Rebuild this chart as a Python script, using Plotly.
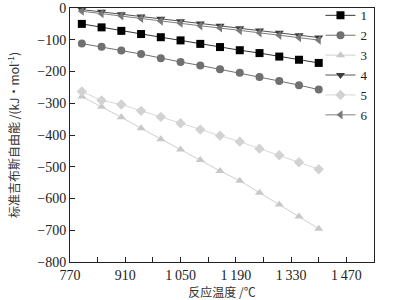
import plotly.graph_objects as go

temps = [800, 850, 900, 950, 1000, 1050, 1100, 1150, 1200, 1250, 1300, 1350, 1400]
s1 = [-50, -61, -72, -82, -92, -102, -113, -123, -133, -142, -153, -163, -173]
s2 = [-112, -122, -134, -145, -158, -170, -181, -193, -204, -217, -230, -243, -257]
s3 = [-279, -311, -344, -379, -413, -446, -479, -513, -544, -582, -619, -657, -695]
s4 = [-5, -12, -20, -27, -34, -42, -49, -56, -64, -71, -78, -86, -93]
s5 = [-263, -291, -304, -324, -343, -363, -383, -402, -421, -443, -464, -486, -508]
s6 = [-10, -18, -25, -33, -41, -48, -56, -63, -71, -78, -86, -93, -101]

names = ["1", "2", "3", "4", "5", "6"]
series = [s1, s2, s3, s4, s5, s6]
symbols = ["square", "circle", "triangle-up", "triangle-down", "diamond", "triangle-left"]
colors = ["#000000", "#707070", "#c8c8c8", "#3c3c3c", "#d2d2d2", "#7a7a7a"]
line_colors = ["#333333", "#707070", "#cfcfcf", "#555555", "#d8d8d8", "#808080"]

x_tickvals = [770, 910, 1050, 1190, 1330, 1470]
x_ticktext = ["770", "910", "1\u2009050", "1\u2009190", "1\u2009330", "1\u2009470"]
y_tickvals = [0, -100, -200, -300, -400, -500, -600, -700, -800]
y_ticktext = ["0", "\u2212100", "\u2212200", "\u2212300", "\u2212400", "\u2212500", "\u2212600", "\u2212700", "\u2212800"]

fig = go.Figure()
for n, s, sym, c, lc in zip(names, series, symbols, colors, line_colors):
    fig.add_trace(go.Scatter(
        x=temps, y=s, name=n, mode="lines+markers",
        marker=dict(symbol=sym, size=8, color=c),
        line=dict(color=lc, width=1),
    ))

serif = "Liberation Serif, Times New Roman, serif"
fig.update_layout(
    width=415, height=300,
    margin=dict(l=70, r=41, t=8, b=38, autoexpand=False),
    paper_bgcolor="white", plot_bgcolor="white",
    font=dict(family=serif, size=14, color="#222222"),
    showlegend=True,
    legend=dict(
        x=0.995, y=1.03, xanchor="right", yanchor="top",
        bgcolor="rgba(0,0,0,0)", borderwidth=0,
        font=dict(family=serif, size=13, color="#222222"),
        tracegroupgap=0, itemwidth=30,
    ),
    xaxis=dict(
        range=[770, 1540], showgrid=False, zeroline=False, automargin=False,
        showline=True, linecolor="#222222", linewidth=1, mirror=True,
        ticks="inside", ticklen=5, tickcolor="#222222",
        tickmode="array", tickvals=x_tickvals, ticktext=x_ticktext,
        minor=dict(ticks="inside", ticklen=5, tickcolor="#222222", tick0=770, dtick=70, showgrid=False),
        tickfont=dict(family=serif, size=14),
        title=dict(text="反应温度 /℃", font=dict(family="Noto Sans CJK SC", size=12, color="#333333"), standoff=0),
    ),
    yaxis=dict(
        range=[-800, 0], showgrid=False, zeroline=False, automargin=False,
        showline=True, linecolor="#222222", linewidth=1, mirror=True,
        ticks="inside", ticklen=5, tickcolor="#222222",
        tickvals=y_tickvals, ticktext=y_ticktext,
        tickfont=dict(family=serif, size=14),
        title=dict(text="标准吉布斯自由能 /(kJ·mol<sup>-1</sup>)", font=dict(family="Noto Sans CJK SC", size=12, color="#333333")),
    ),
)

fig.write_html("out.html", config={"displayModeBar": False},
               post_script="document.body.style.margin='0';")
